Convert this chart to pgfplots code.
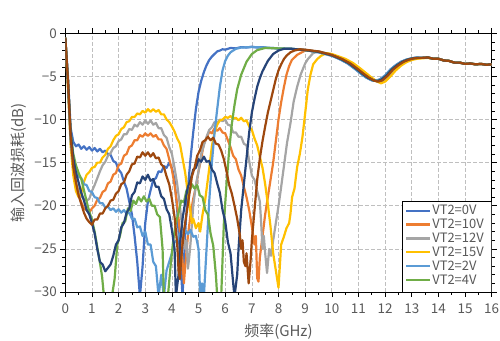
\documentclass[border=0pt]{standalone}
\usepackage{pgfplots}
\pgfplotsset{compat=1.18}
\usepackage{fontspec}
\setmainfont{Noto Sans CJK SC}
\definecolor{c0}{HTML}{4472C4}
\definecolor{c10}{HTML}{ED7D31}
\definecolor{c12}{HTML}{A5A5A5}
\definecolor{c15}{HTML}{FFC000}
\definecolor{c2}{HTML}{5B9BD5}
\definecolor{c4}{HTML}{70AD47}
\definecolor{c6}{HTML}{264478}
\definecolor{c8}{HTML}{9E480E}
\definecolor{txt}{HTML}{595959}
\definecolor{gridc}{HTML}{BFBFBF}
\begin{document}
\begin{tikzpicture}
\useasboundingbox (0,0) rectangle (500bp,341bp);
\begin{axis}[
  at={(65.3bp,49bp)}, anchor=south west,
  scale only axis, width=426.4bp, height=258.7bp,
  xmin=0, xmax=16, ymin=-30, ymax=0,
  xtick={0,1,2,3,4,5,6,7,8,9,10,11,12,13,14,15,16},
  xticklabels={0,1,2,3,4,5,6,7,8,9,10,11,12,13,14,15,16},
  ytick={-30,-25,-20,-15,-10,-5,0},
  yticklabels={−30,−25,−20,−15,−10,−5,0},
  minor x tick num=1, minor y tick num=4,
  tick align=outside, major tick length=5bp, minor tick length=3bp,
  every tick/.style={black, line width=0.6bp},
  axis line style={black, line width=0.8bp},
  grid=major,
  major grid style={gridc, line width=0.7bp, dash pattern=on 3.5bp off 2.5bp},
  ticklabel style={font=\fontsize{13.5}{14}\selectfont, text=txt},
  xticklabel style={yshift=-3.5bp},
  xlabel={频率(GHz)}, ylabel={输入回波损耗(dB)},
  label style={font=\fontsize{15}{16}\selectfont, text=txt},
  xlabel style={at={(axis description cs:0.5,-0.152)}, anchor=center},
  ylabel style={at={(axis description cs:-0.1086,0.5)}, anchor=center},
  legend style={at={(0.7925,0.347)}, anchor=north west, draw=none, fill=none,
    font=\fontsize{13}{13}\selectfont, text=txt, inner sep=1.5bp, row sep=0.5bp,
    nodes={inner sep=1.2bp, text height=9.5bp, text depth=1.5bp}},
  legend cell align=left,
  legend image code/.code={\draw[#1, line width=2.2bp] (0bp,0bp) -- (24bp,0bp);},
  every axis plot/.append style={line width=2.2bp, line join=round, mark=none},
]
% VT2=0V
\addplot[c0] coordinates {(0,-0.5) (0.1,-5) (0.2,-11) (0.3,-12.6) (0.4,-13.1) (0.5,-12.9) (0.6,-13.4) (0.7,-13.1) (0.8,-13.5) (0.9,-13.2) (1.0,-13.6) (1.1,-13.3) (1.2,-13.7) (1.3,-13.4) (1.4,-13.8) (1.5,-13.6) (1.6,-14.0) (1.7,-14.1) (1.8,-14.8) (1.9,-15.0) (2.0,-15.8) (2.1,-16.2) (2.2,-17.2) (2.3,-18.0) (2.4,-19.5) (2.5,-21.0) (2.6,-23.5) (2.7,-26.5) (2.8,-30.5) (2.9,-27) (3.0,-22) (3.1,-19.5) (3.2,-18.2) (3.3,-17.0) (3.4,-16.8) (3.5,-16.0) (3.6,-16.1) (3.7,-15.4) (3.8,-15.6) (3.9,-15.0) (4.0,-15.6) (4.1,-17.0) (4.2,-20.5) (4.3,-25.5) (4.4,-30.5) (4.5,-23) (4.6,-18) (4.7,-14.5) (4.8,-11.5) (4.9,-8.8) (5.0,-6.8) (5.1,-5.5) (5.2,-4.5) (5.3,-3.7) (5.4,-3.1) (5.5,-2.7) (5.6,-2.4) (5.7,-2.1) (5.8,-2.0) (5.9,-1.85) (6.0,-1.9) (6.2,-1.7) (6.4,-1.75) (6.6,-1.6) (6.8,-1.65) (7.0,-1.55) (7.2,-1.65) (7.4,-1.6) (7.6,-1.7) (7.8,-1.7) (8.0,-1.8) (8.5,-1.8) (9.0,-1.95) (9.5,-2.2) (10.0,-2.6) (10.3,-3.0) (10.6,-3.5) (10.9,-4.2) (11.1,-4.7) (11.3,-5.15) (11.5,-5.45) (11.65,-5.5) (11.8,-5.35) (12.0,-4.9) (12.2,-4.2) (12.4,-3.7) (12.6,-3.3) (12.8,-3.05) (13.0,-2.9) (13.2,-2.8) (13.4,-2.85) (13.6,-2.8) (13.8,-2.95) (14.0,-2.95) (14.2,-3.15) (14.4,-3.2) (14.6,-3.4) (14.8,-3.4) (15.0,-3.55) (15.2,-3.5) (15.4,-3.6) (15.6,-3.55) (15.8,-3.65) (16.0,-3.6)};
\addlegendentry{VT2=0V}
% VT2=10V
\addplot[c10] coordinates {(0,-0.5) (0.1,-5.5) (0.2,-12) (0.3,-15.5) (0.4,-17.5) (0.5,-18.8) (0.6,-19.6) (0.7,-20.3) (0.8,-20.5) (0.9,-20.8) (1.0,-20.3) (1.1,-20.0) (1.2,-19.3) (1.3,-19.1) (1.4,-18.4) (1.5,-18.2) (1.6,-17.4) (1.7,-17.2) (1.8,-16.4) (1.9,-16.2) (2.0,-15.3) (2.1,-15.1) (2.2,-14.2) (2.3,-14.0) (2.4,-13.2) (2.5,-13.0) (2.6,-12.4) (2.7,-12.4) (2.8,-11.8) (2.9,-12.0) (3.0,-11.6) (3.1,-11.9) (3.2,-11.6) (3.3,-12.0) (3.4,-11.8) (3.5,-12.3) (3.6,-12.3) (3.7,-13.0) (3.8,-13.4) (3.9,-14.6) (4.0,-15.8) (4.1,-17.6) (4.2,-20) (4.3,-23) (4.4,-26.5) (4.45,-29) (4.5,-27) (4.6,-23.5) (4.7,-21) (4.8,-19.2) (4.9,-17.8) (5.0,-16) (5.1,-14.5) (5.2,-12.8) (5.3,-12.2) (5.4,-11.4) (5.5,-11.6) (5.6,-11.0) (5.7,-11.3) (5.8,-11.0) (5.9,-11.5) (6.0,-11.6) (6.1,-12.4) (6.2,-13.2) (6.3,-14.2) (6.4,-14.6) (6.5,-15.8) (6.6,-16.5) (6.7,-17.8) (6.8,-19.0) (6.9,-20.5) (7.0,-22.4) (7.1,-24.5) (7.15,-23.5) (7.2,-28.4) (7.25,-28.8) (7.3,-26) (7.4,-23.5) (7.5,-21) (7.6,-19) (7.7,-17) (7.8,-15) (7.9,-12.5) (8.0,-10) (8.1,-8) (8.2,-6.3) (8.3,-4.8) (8.4,-3.8) (8.5,-3.1) (8.7,-2.5) (9.0,-2.0) (9.5,-2.1) (10.0,-2.5) (10.4,-3.0) (10.7,-3.5) (11.0,-4.2) (11.2,-4.7) (11.4,-5.15) (11.6,-5.5) (11.75,-5.6) (11.9,-5.45) (12.1,-4.9) (12.3,-4.2) (12.5,-3.7) (12.7,-3.3) (12.9,-3.05) (13.1,-2.9) (13.3,-2.85) (13.4,-2.85) (13.6,-2.8) (13.8,-2.95) (14.0,-2.95) (14.2,-3.15) (14.4,-3.2) (14.6,-3.4) (14.8,-3.4) (15.0,-3.55) (15.2,-3.5) (15.4,-3.6) (15.6,-3.55) (15.8,-3.65) (16.0,-3.6)};
\addlegendentry{VT2=10V}
% VT2=12V
\addplot[c12] coordinates {(0,-0.5) (0.1,-5.5) (0.2,-12) (0.3,-15.5) (0.4,-17.3) (0.5,-18.3) (0.6,-18.9) (0.7,-19.2) (0.8,-19.4) (0.9,-19.2) (1.0,-18.3) (1.1,-17.6) (1.2,-16.8) (1.3,-16.0) (1.4,-15.3) (1.5,-14.9) (1.6,-14.2) (1.7,-13.9) (1.8,-13.3) (1.9,-13.1) (2.0,-12.5) (2.1,-12.3) (2.2,-11.7) (2.3,-11.7) (2.4,-11.1) (2.5,-11.2) (2.6,-10.6) (2.7,-10.8) (2.8,-10.3) (2.9,-10.6) (3.0,-10.1) (3.1,-10.5) (3.2,-10.1) (3.3,-10.6) (3.4,-10.4) (3.5,-11.0) (3.6,-11.0) (3.7,-11.8) (3.8,-12.1) (3.9,-13.2) (4.0,-14.0) (4.1,-15.6) (4.2,-17.5) (4.3,-20.0) (4.4,-23.0) (4.5,-25.0) (4.55,-24) (4.6,-27.3) (4.65,-26.0) (4.7,-24.3) (4.8,-20.0) (4.9,-17.6) (5.0,-16.0) (5.1,-14.0) (5.2,-13.0) (5.3,-12.0) (5.4,-11.2) (5.5,-10.9) (5.6,-10.3) (5.7,-10.4) (5.8,-10.0) (5.9,-10.2) (6.0,-10.0) (6.1,-10.6) (6.2,-10.7) (6.3,-11.5) (6.4,-11.5) (6.5,-12.0) (6.6,-12.0) (6.7,-12.8) (6.8,-13.0) (6.9,-14.8) (7.0,-16.5) (7.1,-17.0) (7.2,-18.3) (7.3,-19.5) (7.35,-22) (7.4,-25) (7.45,-23.5) (7.5,-25.5) (7.57,-27.8) (7.65,-25) (7.72,-25.8) (7.8,-24) (7.9,-22) (8.0,-20) (8.07,-18.5) (8.2,-15.5) (8.32,-12.7) (8.45,-10.4) (8.57,-7.9) (8.7,-6.2) (8.83,-4.8) (9.0,-3.5) (9.1,-3.0) (9.3,-2.3) (9.5,-2.1) (10.0,-2.45) (10.45,-3.0) (10.75,-3.5) (11.05,-4.2) (11.25,-4.7) (11.45,-5.15) (11.65,-5.5) (11.8,-5.6) (11.95,-5.45) (12.15,-4.9) (12.35,-4.2) (12.55,-3.7) (12.75,-3.3) (12.95,-3.05) (13.15,-2.9) (13.35,-2.85) (13.6,-2.8) (13.8,-2.95) (14.0,-2.95) (14.2,-3.15) (14.4,-3.2) (14.6,-3.4) (14.8,-3.4) (15.0,-3.55) (15.2,-3.5) (15.4,-3.6) (15.6,-3.55) (15.8,-3.65) (16.0,-3.6)};
\addlegendentry{VT2=12V}
% VT2=15V
\addplot[c15] coordinates {(0,-0.5) (0.1,-6.5) (0.2,-13) (0.3,-16.5) (0.4,-18.3) (0.5,-19.0) (0.6,-18.5) (0.7,-17.2) (0.8,-16.4) (0.9,-16.1) (1.0,-15.6) (1.1,-15.5) (1.2,-15.0) (1.3,-15.0) (1.4,-14.4) (1.5,-14.1) (1.6,-13.4) (1.7,-13.1) (1.8,-12.4) (1.9,-11.9) (2.0,-11.7) (2.1,-11.1) (2.2,-10.9) (2.3,-10.3) (2.4,-10.2) (2.5,-9.7) (2.6,-9.7) (2.7,-9.3) (2.8,-9.4) (2.9,-9.0) (3.0,-9.2) (3.1,-8.8) (3.2,-9.1) (3.3,-8.8) (3.4,-9.1) (3.5,-8.9) (3.6,-9.4) (3.7,-9.4) (3.8,-10.0) (3.9,-10.3) (4.0,-10.8) (4.1,-11.4) (4.2,-12.2) (4.3,-12.8) (4.4,-14.5) (4.5,-16.2) (4.6,-18.6) (4.7,-20.8) (4.75,-22) (4.8,-21.5) (4.9,-22.6) (5.0,-22.0) (5.06,-23) (5.15,-21) (5.25,-19.3) (5.38,-16.2) (5.5,-13.1) (5.6,-11.5) (5.7,-10.6) (5.8,-10.1) (5.9,-10.0) (6.0,-9.7) (6.1,-9.8) (6.2,-9.6) (6.3,-9.9) (6.4,-9.8) (6.5,-10.1) (6.6,-9.8) (6.7,-10.2) (6.8,-10.1) (6.9,-10.8) (7.0,-11.2) (7.1,-12.2) (7.2,-13.0) (7.3,-14.3) (7.4,-15.6) (7.5,-17.5) (7.6,-19.8) (7.7,-22.4) (7.8,-25.5) (7.9,-27.5) (8.0,-29.5) (8.05,-27) (8.1,-24.5) (8.2,-23.6) (8.3,-22.6) (8.4,-22.0) (8.45,-20.9) (8.51,-19) (8.6,-18.0) (8.7,-15.5) (8.8,-14.0) (8.9,-12) (9.0,-9.3) (9.1,-6.5) (9.2,-4.8) (9.3,-3.6) (9.45,-3.0) (9.6,-2.6) (9.8,-2.3) (10.0,-2.4) (10.5,-2.95) (10.8,-3.45) (11.1,-4.15) (11.3,-4.65) (11.5,-5.15) (11.7,-5.6) (11.85,-5.8) (12.0,-5.6) (12.2,-5.0) (12.4,-4.3) (12.6,-3.75) (12.8,-3.35) (13.0,-3.1) (13.2,-2.95) (13.4,-2.9) (13.6,-2.85) (13.8,-2.95) (14.0,-2.95) (14.2,-3.15) (14.4,-3.2) (14.6,-3.4) (14.8,-3.4) (15.0,-3.55) (15.2,-3.5) (15.4,-3.6) (15.6,-3.55) (15.8,-3.65) (16.0,-3.6)};
\addlegendentry{VT2=15V}
% VT2=2V
\addplot[c2] coordinates {(0,-0.5) (0.1,-6) (0.2,-12.5) (0.3,-15.2) (0.4,-15.9) (0.5,-16.6) (0.6,-16.8) (0.7,-17.5) (0.8,-17.6) (0.9,-18.3) (1.0,-18.4) (1.1,-19.0) (1.2,-19.1) (1.3,-19.7) (1.4,-19.7) (1.5,-20.2) (1.6,-20.1) (1.7,-20.5) (1.8,-20.3) (1.9,-20.7) (2.0,-20.4) (2.1,-20.8) (2.2,-20.5) (2.3,-20.9) (2.4,-20.8) (2.5,-21.5) (2.6,-21.5) (2.7,-22.5) (2.8,-22.4) (2.9,-23.5) (3.0,-23.0) (3.1,-24.5) (3.2,-24.5) (3.3,-26.5) (3.4,-27) (3.5,-30.5) (3.6,-28) (3.7,-30.5) (3.8,-27.5) (3.9,-26.5) (4.0,-25.5) (4.1,-24.2) (4.2,-24.0) (4.3,-23.2) (4.4,-23.6) (4.5,-22.8) (4.6,-23.3) (4.7,-22.8) (4.8,-23.6) (4.9,-23.5) (5.0,-25.0) (5.06,-30.5) (5.13,-29) (5.2,-30.5) (5.3,-25) (5.4,-19.5) (5.5,-15) (5.6,-11.5) (5.7,-8.8) (5.8,-6.2) (5.9,-4.3) (6.0,-3.2) (6.1,-2.6) (6.2,-2.2) (6.4,-1.8) (6.6,-1.65) (7.0,-1.6) (7.5,-1.65) (8.0,-1.75) (8.5,-1.8) (9.0,-1.95) (9.5,-2.2) (10.0,-2.6) (10.3,-3.0) (10.6,-3.5) (10.9,-4.2) (11.1,-4.7) (11.3,-5.15) (11.5,-5.45) (11.65,-5.5) (11.8,-5.35) (12.0,-4.9) (12.2,-4.2) (12.4,-3.7) (12.6,-3.3) (12.8,-3.05) (13.0,-2.9) (13.2,-2.8) (13.4,-2.85) (13.6,-2.8) (13.8,-2.95) (14.0,-2.95) (14.2,-3.15) (14.4,-3.2) (14.6,-3.4) (14.8,-3.4) (15.0,-3.55) (15.2,-3.5) (15.4,-3.6) (15.6,-3.55) (15.8,-3.65) (16.0,-3.6)};
\addlegendentry{VT2=2V}
% VT2=4V
\addplot[c4] coordinates {(0,-0.5) (0.1,-5.5) (0.2,-11.5) (0.3,-14) (0.4,-15.3) (0.5,-16.2) (0.6,-16.9) (0.7,-18.2) (0.8,-19.5) (0.9,-20.7) (1.0,-21.6) (1.1,-23) (1.2,-24.8) (1.3,-26.6) (1.38,-28.2) (1.45,-30.5) (1.6,-31) (1.75,-30.5) (1.85,-28.5) (1.95,-24.5) (2.05,-23.5) (2.15,-22) (2.25,-21.8) (2.35,-20.3) (2.45,-20.6) (2.55,-19.4) (2.65,-19.8) (2.75,-19.0) (2.85,-19.5) (2.95,-18.9) (3.05,-19.5) (3.15,-19.2) (3.25,-20.0) (3.35,-20.0) (3.45,-21.0) (3.55,-21.3) (3.65,-25) (3.7,-30.5) (3.85,-30.5) (3.95,-27) (4.05,-24) (4.15,-22) (4.25,-20.8) (4.35,-19.4) (4.45,-19.6) (4.55,-18.2) (4.65,-18.5) (4.75,-17.5) (4.85,-18.0) (4.95,-17.6) (5.05,-18.8) (5.15,-19.0) (5.25,-20.5) (5.35,-21.0) (5.45,-23.2) (5.55,-24.6) (5.65,-28) (5.7,-30.5) (5.85,-30.5) (5.95,-22) (6.05,-17.5) (6.15,-13.5) (6.25,-10.5) (6.35,-8.3) (6.45,-6.5) (6.6,-4.8) (6.8,-3.3) (7.0,-2.4) (7.2,-1.95) (7.5,-1.7) (8.0,-1.75) (8.5,-1.8) (9.0,-1.95) (9.5,-2.15) (10.0,-2.55) (10.35,-3.0) (10.65,-3.5) (10.95,-4.2) (11.15,-4.7) (11.35,-5.15) (11.55,-5.45) (11.7,-5.55) (11.85,-5.4) (12.05,-4.9) (12.25,-4.2) (12.45,-3.7) (12.65,-3.3) (12.85,-3.05) (13.05,-2.9) (13.2,-2.85) (13.4,-2.85) (13.6,-2.8) (13.8,-2.95) (14.0,-2.95) (14.2,-3.15) (14.4,-3.2) (14.6,-3.4) (14.8,-3.4) (15.0,-3.55) (15.2,-3.5) (15.4,-3.6) (15.6,-3.55) (15.8,-3.65) (16.0,-3.6)};
\addlegendentry{VT2=4V}
% VT2=6V
\addplot[c6, forget plot] coordinates {(0,-0.5) (0.1,-5.5) (0.2,-11.5) (0.3,-14.5) (0.4,-16.2) (0.5,-17.3) (0.6,-18.5) (0.7,-19.4) (0.8,-20.5) (0.9,-21.0) (1.0,-22.0) (1.1,-23.2) (1.2,-25.0) (1.3,-26.5) (1.4,-26.8) (1.5,-27.6) (1.6,-27.2) (1.7,-26.8) (1.8,-25.8) (1.9,-24.5) (2.0,-24.0) (2.1,-22.5) (2.2,-22.0) (2.3,-20.8) (2.4,-20.3) (2.5,-18.8) (2.6,-18.4) (2.7,-17.3) (2.8,-17.4) (2.9,-16.6) (3.0,-17.0) (3.1,-16.4) (3.2,-17.1) (3.3,-16.9) (3.4,-17.8) (3.5,-17.8) (3.6,-18.9) (3.7,-19.2) (3.8,-20.4) (3.9,-21.0) (4.0,-22.8) (4.1,-25) (4.15,-30.5) (4.25,-28) (4.3,-24.5) (4.4,-21.5) (4.5,-19.5) (4.6,-17.8) (4.7,-17.0) (4.8,-15.8) (4.9,-15.6) (5.0,-14.6) (5.1,-14.9) (5.2,-14.3) (5.3,-14.9) (5.4,-14.8) (5.5,-15.8) (5.6,-16.2) (5.7,-17.4) (5.8,-18.5) (5.9,-20.5) (6.0,-21.8) (6.1,-24.2) (6.2,-25.5) (6.3,-29) (6.35,-30.5) (6.45,-28) (6.5,-25) (6.6,-20.5) (6.7,-17.5) (6.8,-14.5) (6.9,-11.5) (7.0,-9.2) (7.1,-7.6) (7.2,-6.2) (7.3,-5.2) (7.4,-4.4) (7.5,-3.8) (7.6,-3.2) (7.7,-2.8) (7.8,-2.4) (8.0,-2.0) (8.2,-1.8) (8.5,-1.8) (9.0,-1.95) (9.5,-2.15) (10.0,-2.55) (10.35,-3.0) (10.65,-3.5) (10.95,-4.2) (11.15,-4.7) (11.35,-5.15) (11.55,-5.45) (11.7,-5.55) (11.85,-5.4) (12.05,-4.9) (12.25,-4.2) (12.45,-3.7) (12.65,-3.3) (12.85,-3.05) (13.05,-2.9) (13.2,-2.85) (13.4,-2.85) (13.6,-2.8) (13.8,-2.95) (14.0,-2.95) (14.2,-3.15) (14.4,-3.2) (14.6,-3.4) (14.8,-3.4) (15.0,-3.55) (15.2,-3.5) (15.4,-3.6) (15.6,-3.55) (15.8,-3.65) (16.0,-3.6)};
% VT2=8V
\addplot[c8, forget plot] coordinates {(0,-0.5) (0.1,-5.5) (0.2,-12) (0.3,-15.5) (0.4,-17.3) (0.5,-18.8) (0.6,-19.8) (0.7,-20.8) (0.8,-21.5) (0.9,-21.9) (1.0,-22.2) (1.1,-21.6) (1.2,-21.6) (1.3,-20.9) (1.4,-20.9) (1.5,-20.3) (1.6,-20.0) (1.7,-19.4) (1.8,-19.3) (1.9,-18.6) (2.0,-18.3) (2.1,-17.5) (2.2,-17.3) (2.3,-16.4) (2.4,-16.0) (2.5,-15.2) (2.6,-15.1) (2.7,-14.3) (2.8,-14.4) (2.9,-13.8) (3.0,-14.2) (3.1,-13.8) (3.2,-14.3) (3.3,-13.9) (3.4,-14.5) (3.5,-14.4) (3.6,-15.2) (3.7,-15.5) (3.8,-16.6) (3.9,-17.5) (4.0,-19.2) (4.1,-21.3) (4.2,-24.5) (4.25,-27.5) (4.3,-28.5) (4.35,-26) (4.45,-23) (4.55,-20.9) (4.65,-18.8) (4.75,-16.6) (4.85,-15.6) (4.95,-14.2) (5.05,-13.6) (5.15,-12.6) (5.25,-12.4) (5.35,-12.0) (5.45,-12.4) (5.55,-12.1) (5.65,-12.8) (5.75,-12.9) (5.85,-13.6) (5.95,-14.6) (6.05,-16.0) (6.15,-17.6) (6.25,-18.6) (6.35,-20.0) (6.45,-21.5) (6.55,-23.4) (6.6,-25) (6.65,-24.0) (6.7,-26.5) (6.76,-27) (6.8,-25.5) (6.88,-29) (6.95,-26.5) (7.0,-24) (7.1,-20.5) (7.2,-17) (7.3,-14.5) (7.4,-12.5) (7.5,-10.8) (7.6,-9.2) (7.7,-7.9) (7.8,-6.6) (7.9,-5.3) (8.0,-4.3) (8.1,-3.6) (8.2,-3.0) (8.3,-2.6) (8.45,-2.2) (8.6,-2.0) (8.8,-1.85) (9.0,-1.9) (9.5,-2.1) (10.0,-2.5) (10.4,-3.0) (10.7,-3.5) (11.0,-4.2) (11.2,-4.7) (11.4,-5.15) (11.6,-5.5) (11.75,-5.6) (11.9,-5.45) (12.1,-4.9) (12.3,-4.2) (12.5,-3.7) (12.7,-3.3) (12.9,-3.05) (13.1,-2.9) (13.3,-2.85) (13.4,-2.85) (13.6,-2.8) (13.8,-2.95) (14.0,-2.95) (14.2,-3.15) (14.4,-3.2) (14.6,-3.4) (14.8,-3.4) (15.0,-3.55) (15.2,-3.5) (15.4,-3.6) (15.6,-3.55) (15.8,-3.65) (16.0,-3.6)};
\draw[black, line width=0.8bp, fill=white] (rel axis cs:0.7905,0) rectangle (rel axis cs:1,0.349);
\end{axis}
\end{tikzpicture}
\end{document}
